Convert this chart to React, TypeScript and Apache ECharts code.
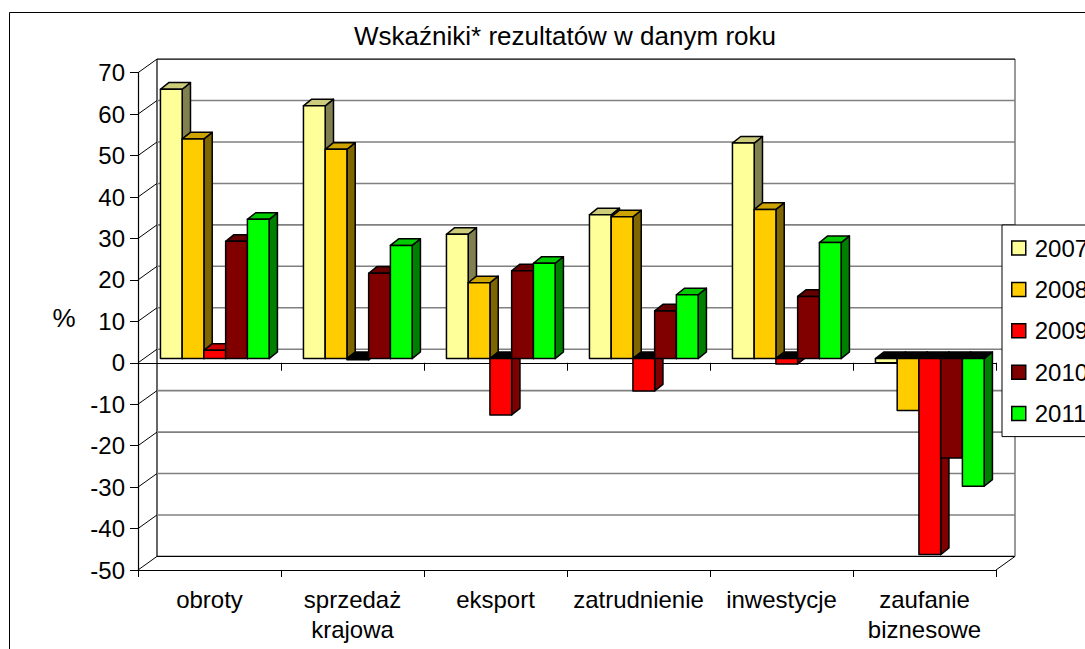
import React, { useEffect, useRef } from "react";
import * as echarts from "echarts";

const categories = ["obroty", "sprzedaż krajowa", "eksport", "zatrudnienie", "inwestycje", "zaufanie biznesowe"];
const years = ["2007", "2008", "2009", "2010", "2011"];
const v2007 = [65, 61, 30, 34.7, 52, -1];
const v2008 = [53, 50.5, 18.3, 34.2, 36, -12.5];
const v2009 = [2, -0.3, -13.6, -7.8, -1.3, -47.3];
const v2010 = [28.3, 20.6, 21.2, 11.5, 15, -24];
const v2011 = [33.6, 27.3, 23, 15.4, 28, -30.8];
const seriesValues = [v2007, v2008, v2009, v2010, v2011];
const yTicks = [-50, -40, -30, -20, -10, 0, 10, 20, 30, 40, 50, 60, 70];

const frontColors = ["#FFFF99", "#FFCC00", "#FF0000", "#800000", "#00FF00"];
const topColors = ["#CCCC7A", "#CCA300", "#CC0000", "#660000", "#00CC00"];
const sideColors = ["#808050", "#806600", "#800000", "#400000", "#008000"];

const FONT = "'Liberation Sans', Arial, sans-serif";
const WALL_DX = 19;
const WALL_DY = -13.6;

export default function App() {
  const ref = useRef<HTMLDivElement>(null);
  useEffect(() => {
    document.body.style.margin = "0";
    document.body.style.overflow = "hidden";
    const chart = echarts.init(ref.current!, null, { renderer: "svg" });

    const wallSeries: any = {
      type: "custom",
      silent: true,
      clip: false,
      z: 1,
      data: yTicks.map((v) => [0, v]),
      encode: { x: 0, y: 1 },
      renderItem: (params: any, api: any) => {
        const cs = params.coordSys;
        const v = api.value(1);
        const y = api.coord([0, v])[1];
        const gx = cs.x;
        const gr = cs.x + cs.width;
        const isEdge = v === yTicks[0] || v === yTicks[yTicks.length - 1];
        const children: any[] = [
          {
            type: "line",
            shape: { x1: gx, y1: y, x2: gx + WALL_DX, y2: y + WALL_DY },
            style: { stroke: "#000", lineWidth: 1 },
          },
          {
            type: "line",
            shape: { x1: gx + WALL_DX, y1: y + WALL_DY, x2: gr + WALL_DX, y2: y + WALL_DY },
            style: { stroke: isEdge ? "#000" : "#808080", lineWidth: isEdge ? 1.2 : 1.6 },
          },
        ];
        if (params.dataIndex === 0) {
          const yTop = cs.y;
          const yBot = cs.y + cs.height;
          children.push(
            {
              type: "line",
              shape: { x1: gx + WALL_DX, y1: yTop + WALL_DY, x2: gx + WALL_DX, y2: yBot + WALL_DY },
              style: { stroke: "#000", lineWidth: 1.2 },
            },
            {
              type: "line",
              shape: { x1: gr + WALL_DX, y1: yTop + WALL_DY, x2: gr + WALL_DX, y2: yBot + WALL_DY },
              style: { stroke: "#808080", lineWidth: 1.6 },
            },
            {
              type: "line",
              shape: { x1: gr, y1: yBot, x2: gr + WALL_DX, y2: yBot + WALL_DY },
              style: { stroke: "#000", lineWidth: 1 },
            }
          );
        }
        return { type: "group", children };
      },
    };

    const barSeries = years.map((yr, s) => ({
      type: "custom",
      name: yr,
      z: 2,
      clip: false,
      itemStyle: { color: frontColors[s], borderColor: "#000", borderWidth: 1.5 },
      data: seriesValues[s].map((v, i) => [i, v]),
      encode: { x: 0, y: 1 },
      renderItem: (params: any, api: any) => {
        const i = api.value(0);
        const v = api.value(1);
        const base = api.coord([i, 0]);
        const top = api.coord([i, v]);
        const band = api.size([1, 0])[0];
        const w = band * 0.152;
        const x0 = base[0] - band / 2 + band * 0.157 + s * w;
        const shift = -4.2;
        const yA = Math.min(base[1], top[1]) + shift;
        const yB = Math.max(base[1], top[1]) + shift;
        const dx = 8.3;
        const dy = -6.6;
        const stroke = { stroke: "#000", lineWidth: 1.5, lineJoin: "round" };
        return {
          type: "group",
          children: [
            {
              type: "polygon",
              shape: { points: [[x0 + w, yA], [x0 + w + dx, yA + dy], [x0 + w + dx, yB + dy], [x0 + w, yB]] },
              style: { fill: sideColors[s], ...stroke },
            },
            {
              type: "polygon",
              shape: { points: [[x0, yA], [x0 + dx, yA + dy], [x0 + w + dx, yA + dy], [x0 + w, yA]] },
              style: { fill: v < 0 ? "#000" : topColors[s], ...stroke },
            },
            {
              type: "rect",
              shape: { x: x0, y: yA, width: w, height: yB - yA },
              style: { fill: frontColors[s], ...stroke },
            },
          ],
        };
      },
    }));

    chart.setOption({
      animation: false,
      backgroundColor: "#fff",
      title: {
        text: "Wskaźniki* rezultatów w danym roku",
        left: 560,
        top: 18,
        textAlign: "center",
        textStyle: { fontFamily: FONT, fontSize: 26, fontWeight: "normal", color: "#000" },
      },
      legend: {
        data: years,
        orient: "vertical",
        left: 1002,
        top: 225,
        padding: [11, 20, 11, 9],
        itemWidth: 14,
        itemHeight: 14,
        itemGap: 17.4,
        icon: "rect",
        backgroundColor: "#fff",
        borderColor: "#000",
        borderWidth: 1,
        borderRadius: 0,
        itemStyle: { borderColor: "#000", borderWidth: 1.5 },
        textStyle: { fontFamily: FONT, fontSize: 24, color: "#000", lineHeight: 24, padding: [0, 0, 0, 4] },
      },
      graphic: [
        {
          type: "rect",
          silent: true,
          z: -10,
          shape: { x: 9.5, y: 12.5, width: 3000, height: 3000 },
          style: { fill: "none", stroke: "#000", lineWidth: 1 },
        },
        {
          type: "text",
          x: 64,
          y: 318,
          style: { text: "%", font: `26px ${FONT}`, fill: "#000", align: "center", verticalAlign: "middle" },
        },
      ],
      grid: { left: 138, right: 89, top: 72.7, bottom: 79, containLabel: false },
      xAxis: [
        {
          type: "category",
          data: categories,
          axisLine: { show: true, onZero: false, lineStyle: { color: "#000", width: 1.2 } },
          axisTick: { show: true, length: 7, lineStyle: { color: "#000" } },
          axisLabel: {
            interval: 0,
            margin: 14,
            fontFamily: FONT,
            fontSize: 24,
            color: "#000",
            lineHeight: 30,
            formatter: (s: string) => s.replace(" ", "\n"),
          },
          splitLine: { show: false },
        },
        {
          type: "category",
          data: categories,
          position: "bottom",
          axisLine: { show: true, onZero: true, lineStyle: { color: "#000", width: 1.2 } },
          axisTick: { show: true, length: 8, lineStyle: { color: "#000" } },
          axisLabel: { show: false },
          splitLine: { show: false },
        },
      ],
      yAxis: {
        type: "value",
        min: -50,
        max: 70,
        interval: 10,
        axisLine: { show: true, lineStyle: { color: "#000", width: 1.2 } },
        axisTick: { show: true, length: 8, lineStyle: { color: "#000" } },
        axisLabel: { margin: 13, fontFamily: FONT, fontSize: 24, color: "#000" },
        splitLine: { show: false },
      },
      series: [wallSeries, ...barSeries],
    });
    return () => chart.dispose();
  }, []);
  return <div ref={ref} style={{ width: 1085, height: 649 }} />;
}
